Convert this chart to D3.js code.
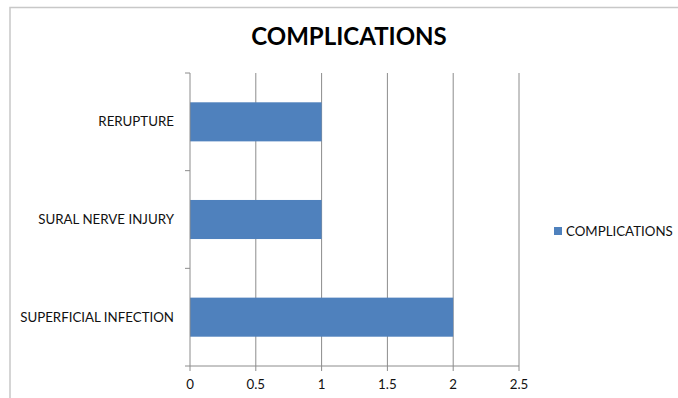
<!DOCTYPE html>
<html>
<head>
<meta charset="utf-8">
<script src="https://cdn.jsdelivr.net/npm/d3@7"></script>
<style>
  body { margin: 0; background: #fff; }
  svg { display: block; font-family: Lato, "Open Sans", sans-serif; }
</style>
</head>
<body>
<div id="chart"></div>
<script>
const categories = ['RERUPTURE', 'SURAL NERVE INJURY', 'SUPERFICIAL INFECTION']
const values = [1, 1, 2]
const seriesName = 'COMPLICATIONS'
const xTicks = [0, 0.5, 1, 1.5, 2, 2.5]

const width = 678
const height = 398
const plot = {left: 190, right: 519, top: 73, bottom: 366}

const svg = d3.select('#chart').append('svg')
    .attr('width', width)
    .attr('height', height)

// chart frame
svg.append('rect')
    .attr('x', 10)
    .attr('y', 7.5)
    .attr('width', width)
    .attr('height', height)
    .attr('fill', 'none')
    .attr('stroke', '#c8c8c8')
    .attr('stroke-width', 1.5)

svg.append('text')
    .attr('x', 349)
    .attr('y', 45)
    .attr('text-anchor', 'middle')
    .style('font-size', '24px')
    .style('font-weight', 'bold')
    .style('fill', '#000')
    .text('COMPLICATIONS')

const x = d3.scaleLinear()
    .domain([0, 2.5])
    .range([plot.left, plot.right])

const y = d3.scaleBand()
    .domain(categories)
    .range([plot.top, plot.bottom])
    .paddingInner(0.6)
    .paddingOuter(0.3)

// gridlines
svg.append('g')
    .selectAll('line')
    .data(xTicks.slice(1))
    .enter().append('line')
    .attr('x1', d => x(d))
    .attr('x2', d => x(d))
    .attr('y1', plot.top)
    .attr('y2', plot.bottom)
    .attr('stroke', '#8c8c8c')
    .attr('stroke-width', 1)

svg.append('g')
    .selectAll('rect')
    .data(categories)
    .enter().append('rect')
    .attr('x', x(0))
    .attr('y', d => y(d))
    .attr('width', (d, i) => x(values[i]) - x(0))
    .attr('height', y.bandwidth())
    .attr('fill', '#4f81bd')

// category axis with ticks between bands
const step = (plot.bottom - plot.top) / categories.length
const yAxis = svg.append('g')
yAxis.append('line')
    .attr('x1', plot.left).attr('x2', plot.left)
    .attr('y1', plot.top).attr('y2', plot.bottom)
    .attr('stroke', '#8c8c8c')
yAxis.selectAll('.tick')
    .data(d3.range(categories.length + 1))
    .enter().append('line')
    .attr('x1', plot.left - 5).attr('x2', plot.left)
    .attr('y1', d => plot.top + d * step)
    .attr('y2', d => plot.top + d * step)
    .attr('stroke', '#8c8c8c')
yAxis.selectAll('text')
    .data(categories)
    .enter().append('text')
    .attr('x', 174)
    .attr('y', d => y(d) + y.bandwidth() / 2)
    .attr('dy', '0.35em')
    .attr('text-anchor', 'end')
    .style('font-size', '13.3px')
    .style('fill', '#111')
    .text(d => d)

const xAxis = svg.append('g')
xAxis.append('line')
    .attr('x1', plot.left).attr('x2', plot.right)
    .attr('y1', plot.bottom).attr('y2', plot.bottom)
    .attr('stroke', '#8c8c8c')
xAxis.selectAll('.tick')
    .data(xTicks)
    .enter().append('line')
    .attr('x1', d => x(d)).attr('x2', d => x(d))
    .attr('y1', plot.bottom).attr('y2', plot.bottom + 5)
    .attr('stroke', '#8c8c8c')
xAxis.selectAll('text')
    .data(xTicks)
    .enter().append('text')
    .attr('x', d => x(d))
    .attr('y', 389)
    .attr('text-anchor', 'middle')
    .style('font-size', '13.3px')
    .style('fill', '#111')
    .text(d => d)

// legend
const legend = svg.append('g')
legend.append('rect')
    .attr('x', 554)
    .attr('y', 227)
    .attr('width', 8)
    .attr('height', 8)
    .attr('fill', '#4f81bd')
legend.append('text')
    .attr('x', 566)
    .attr('y', 231)
    .attr('dy', '0.35em')
    .style('font-size', '13.3px')
    .style('fill', '#111')
    .text(seriesName)
</script>
</body>
</html>
